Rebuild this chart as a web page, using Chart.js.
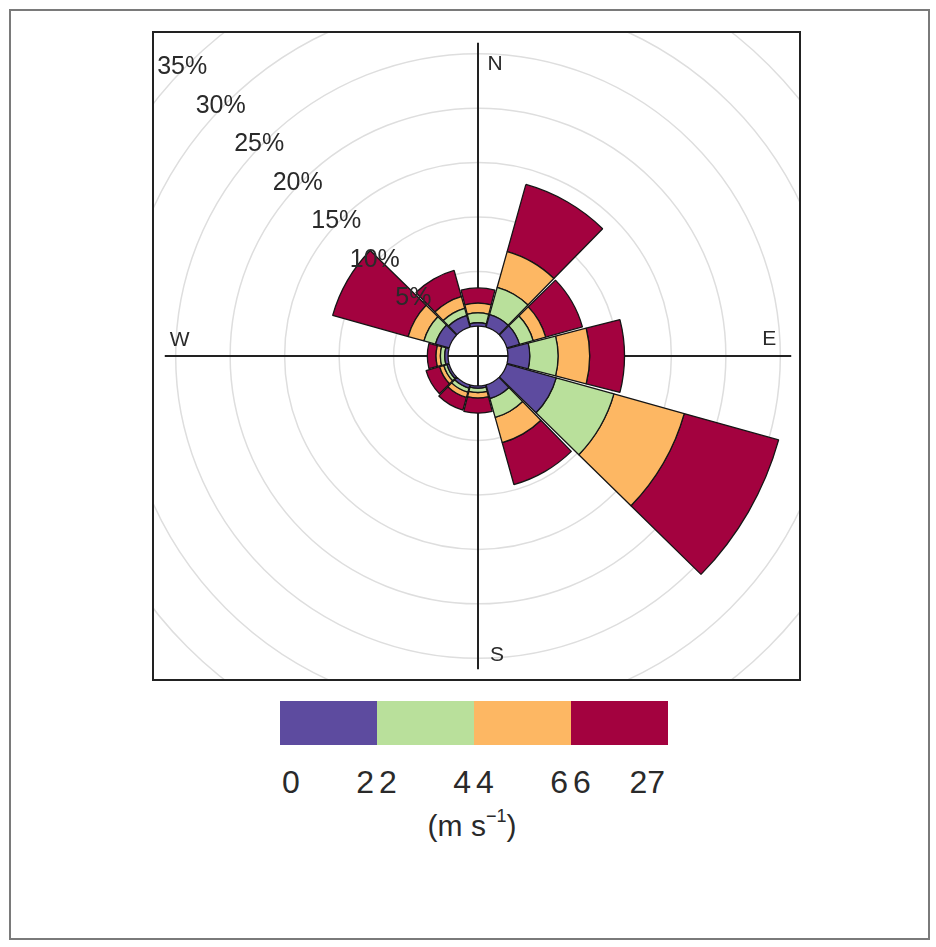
<!DOCTYPE html>
<html>
<head>
<meta charset="utf-8">
<script src="https://cdn.jsdelivr.net/npm/chart.js@4.4.0/dist/chart.umd.min.js"></script>
<style>
  body { margin: 0; background: #fff; font-family: "Liberation Sans", Arial, sans-serif; color: #2a2a2a; }
  #frame { position: absolute; left: 9px; top: 9px; width: 917px; height: 927px; border: 2px solid #7a7a7a; }
  #box { position: absolute; left: 152px; top: 31px; width: 645px; height: 646px; border: 2px solid #222; overflow: hidden; background: #fff; }
  #box canvas { position: absolute; left: -96px; top: -97px; }
  .swatch { position: absolute; top: 701px; height: 44px; }
  .edge { position: absolute; top: 764px; font-size: 32px; line-height: 36px; white-space: nowrap; }
  #units { position: absolute; left: 272px; width: 400px; top: 808px; text-align: center; font-size: 30px; line-height: 36px; }
  #units sup { font-size: 18px; vertical-align: 14px; line-height: 0; }
</style>
</head>
<body>
<div id="frame"></div>
<div id="box"><canvas id="rose" width="840" height="840"></canvas></div>
<div id="legend"></div>
<div id="units">(m s<sup>−1</sup>)</div>
<script>
// wind direction sectors (degrees, centre of each 30° sector)
const bearings = [0, 30, 60, 90, 120, 150, 180, 210, 240, 270, 300, 330];

// frequency (%) of each speed class per direction
const speed0to2  = [0.3, 1.2, 1.2, 2.0, 4.7, 1.3, 0.2, 0.3, 0.2, 0.3, 1.3, 1.1];
const speed2to4  = [0.9, 2.6, 1.3, 2.6, 5.5, 1.8, 0.4, 0.4, 0.3, 0.4, 1.1, 0.7];
const speed4to6  = [0.9, 3.4, 1.2, 2.9, 6.7, 2.4, 0.5, 0.5, 0.4, 0.4, 1.5, 1.1];
const speed6to27 = [1.4, 6.4, 3.5, 3.2, 9.0, 4.0, 1.4, 1.2, 1.3, 0.8, 7.2, 2.5];

const speedClasses = ['0 to 2', '2 to 4', '4 to 6', '6 to 27'];
const classLower = ['0', '2', '4', '6'];
const classUpper = ['2', '4', '6', '27'];
const classColors = ['#5D4B9F', '#B9E09B', '#FDB763', '#A3023F'];

// radial grid (%)
const gridSteps = [5, 10, 15, 20, 25, 30, 35];
const cardinals = ['N', 'E', 'S', 'W'];

const series = [speed0to2, speed2to4, speed4to6, speed6to27];

// stack the classes: each band runs from the running total to the next
let running = bearings.map(() => 0);
const datasets = series.map((vals, k) => {
  const base = running.slice();
  running = running.map((v, i) => v + vals[i]);
  return {
    label: speedClasses[k],
    data: running.slice(),
    base: base,
    backgroundColor: classColors[k],
    borderColor: '#151515',
    borderWidth: 1.3
  };
});

function polar(scale, bearing, value) {
  const d = scale.getDistanceFromCenterForValue(value);
  const a = bearing * Math.PI / 180;
  return { x: scale.xCenter + Math.sin(a) * d, y: scale.yCenter - Math.cos(a) * d };
}

const stackedBands = {
  id: 'stackedBands',
  afterDatasetsUpdate(chart) {
    const scale = chart.scales.r;
    const gap = 0.6 * Math.PI / 180;
    chart.data.datasets.forEach((ds, di) => {
      chart.getDatasetMeta(di).data.forEach((arc, i) => {
        arc.innerRadius = scale.getDistanceFromCenterForValue(ds.base[i]);
        arc.startAngle += gap;
        arc.endAngle -= gap;
      });
    });
  }
};

const axisReach = 26;
const roseDecor = {
  id: 'roseDecor',
  beforeDatasetsDraw(chart) {
    const scale = chart.scales.r;
    const ctx = chart.ctx;
    ctx.save();
    ctx.strokeStyle = '#222';
    ctx.lineWidth = 2;
    [[0, 180], [90, 270]].forEach(([a, b]) => {
      const p1 = polar(scale, a, axisReach);
      const p2 = polar(scale, b, axisReach);
      ctx.beginPath();
      ctx.moveTo(p1.x, p1.y);
      ctx.lineTo(p2.x, p2.y);
      ctx.stroke();
    });
    ctx.restore();
  },
  afterDatasetsDraw(chart) {
    const scale = chart.scales.r;
    const ctx = chart.ctx;
    ctx.save();
    ctx.fillStyle = '#2a2a2a';
    ctx.textAlign = 'center';
    ctx.textBaseline = 'middle';
    ctx.font = '25px "Liberation Sans", Arial, sans-serif';
    gridSteps.forEach(v => {
      const p = polar(scale, 315, v);
      ctx.fillText(v + '%', p.x - 5, p.y + 2);
    });
    ctx.font = '21px "Liberation Sans", Arial, sans-serif';
    const shift = { N: [17, 21], E: [-22, -17], S: [19, -14], W: [15, -16] };
    cardinals.forEach((c, i) => {
      const p = polar(scale, i * 90, axisReach);
      ctx.fillText(c, p.x + shift[c][0], p.y + shift[c][1]);
    });
    ctx.restore();
  }
};

new Chart(document.getElementById('rose'), {
  type: 'polarArea',
  data: { labels: bearings.map(b => b + '°'), datasets },
  options: {
    responsive: false,
    animation: false,
    layout: { padding: 0 },
    plugins: { legend: { display: false }, tooltip: { enabled: false } },
    scales: {
      r: {
        min: -2.75,
        max: 35.8,
        startAngle: -15,
        afterBuildTicks: s => { s.ticks = gridSteps.map(v => ({ value: v })); },
        ticks: { display: false },
        grid: { color: '#dedede', lineWidth: 1.5 },
        angleLines: { display: false },
        pointLabels: { display: false }
      }
    }
  },
  plugins: [stackedBands, roseDecor]
});

// colour key
const legend = document.getElementById('legend');
const keyLeft = 280, keyWidth = 97;
classColors.forEach((col, k) => {
  const x0 = keyLeft + k * keyWidth;
  const sw = document.createElement('div');
  sw.className = 'swatch';
  sw.style.left = x0 + 'px';
  sw.style.width = keyWidth + 'px';
  sw.style.background = col;
  legend.appendChild(sw);

  const lo = document.createElement('div');
  lo.className = 'edge';
  lo.style.left = (x0 + 2) + 'px';
  lo.textContent = classLower[k];
  legend.appendChild(lo);

  const hi = document.createElement('div');
  hi.className = 'edge';
  hi.style.right = (936 - x0 - keyWidth + 3) + 'px';
  hi.textContent = classUpper[k];
  legend.appendChild(hi);
});
</script>
</body>
</html>
